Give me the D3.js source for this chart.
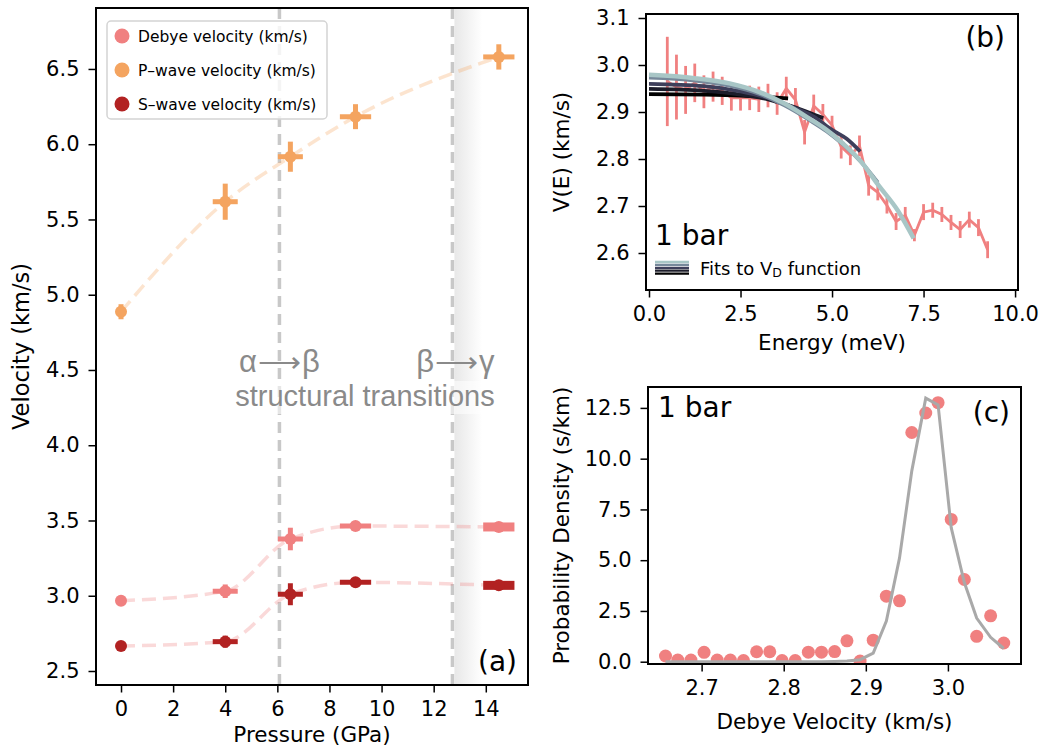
<!DOCTYPE html>
<html>
<head>
<meta charset="utf-8">
<script src="https://cdn.jsdelivr.net/npm/d3@7"></script>
<style>
  body { margin: 0; background: #fff; }
  svg { display: block; }
</style>
</head>
<body>
<svg id="fig" width="1043" height="750"></svg>
<script>
// ---------- Panel (a): sound velocities against pressure ----------
const pressure      = [0, 4, 6.5, 9, 14.5];
const pressureErr   = [0, 0.48, 0.48, 0.6, 0.6];
const debyeV        = [2.967, 3.030, 3.377, 3.463, 3.457];
const debyeErr      = [0.030, 0.045, 0.075, 0.012, 0.020];
const pWaveV        = [4.887, 5.618, 5.917, 6.183, 6.580];
const pWaveErr      = [0.050, 0.120, 0.100, 0.083, 0.084];
const sWaveV        = [2.666, 2.695, 3.010, 3.089, 3.069];
const sWaveErr      = [0.030, 0.040, 0.073, 0.012, 0.020];
const transitionP   = [6.08, 12.72];
const seriesLabels  = ["Debye velocity (km/s)", "P\u2013wave velocity  (km/s)", "S\u2013wave velocity (km/s)"];
const pressureTicks = [0, 2, 4, 6, 8, 10, 12, 14];
const velocityTicks = [2.5, 3.0, 3.5, 4.0, 4.5, 5.0, 5.5, 6.0, 6.5];

// ---------- Panel (b): energy-dependent velocity at 1 bar ----------
const energy = [0.50, 0.75, 1.00, 1.25, 1.50, 1.75, 2.00, 2.25, 2.50, 2.75, 3.00, 3.25,
                3.50, 3.75, 4.00, 4.25, 4.50, 4.75, 5.00, 5.25, 5.50, 5.75, 6.00, 6.25,
                6.50, 6.75, 7.00, 7.25, 7.50, 7.75, 8.00, 8.25, 8.50, 8.75, 9.00, 9.25];
const velocityE = [2.965, 2.953, 2.947, 2.962, 2.943, 2.954, 2.945, 2.930, 2.930, 2.930, 2.927, 2.935,
                   2.918, 2.950, 2.926, 2.857, 2.913, 2.895, 2.872, 2.826, 2.808, 2.828, 2.744, 2.729,
                   2.701, 2.667, 2.680, 2.638, 2.687, 2.691, 2.682, 2.665, 2.650, 2.671, 2.654, 2.607];
const velocityEErr = [0.095, 0.069, 0.051, 0.041, 0.035, 0.032, 0.030, 0.027, 0.027, 0.026, 0.027, 0.025,
                      0.024, 0.025, 0.025, 0.026, 0.024, 0.022, 0.020, 0.025, 0.021, 0.022, 0.022, 0.017,
                      0.017, 0.018, 0.018, 0.013, 0.017, 0.016, 0.016, 0.016, 0.018, 0.017, 0.018, 0.018];
// fitted V_D curves, one per fitting window (energy, velocity)
const fitWindow1 = [[0, 2.938], [1.5, 2.937], [2.5, 2.935], [3.2, 2.932], [3.8, 2.929]];
const fitWindow2 = [[0, 2.949], [1.5, 2.945], [2.6, 2.936], [3.3, 2.926], [3.9, 2.912], [4.4, 2.898], [4.76, 2.887]];
const fitWindow3 = [[0, 2.960], [1.5, 2.955], [2.5, 2.944], [3.25, 2.930], [4.0, 2.908], [4.5, 2.890], [5.0, 2.862], [5.4, 2.843], [5.77, 2.816]];
const fitWindow4 = [[0, 2.973], [1.25, 2.967], [2.2, 2.956], [3.0, 2.939], [3.7, 2.914], [4.4, 2.882], [4.85, 2.859], [5.3, 2.831], [5.8, 2.793], [6.25, 2.750]];
const fitWindow5 = [[0, 2.979], [1.25, 2.972], [2.2, 2.961], [3.0, 2.943], [3.7, 2.918], [4.4, 2.885], [4.85, 2.862], [5.3, 2.833], [5.8, 2.794], [6.25, 2.746], [6.8, 2.690], [7.23, 2.631]];
const energyTicks = [0, 2.5, 5, 7.5, 10];
const velETicks   = [2.6, 2.7, 2.8, 2.9, 3.0, 3.1];

// ---------- Panel (c): distribution of Debye velocity ----------
const debyeBins = [2.656, 2.671, 2.687, 2.703, 2.719, 2.735, 2.751, 2.767, 2.783, 2.798, 2.814, 2.830, 2.846, 2.862,
                   2.877, 2.893, 2.909, 2.925, 2.941, 2.956, 2.973, 2.988, 3.004, 3.020, 3.035, 3.052, 3.068];
const probDensity = [0.28, 0.08, 0.08, 0.46, 0.08, 0.08, 0.06, 0.49, 0.49, 0.06, 0.06, 0.47, 0.47, 0.50,
                     1.03, 0.03, 1.06, 3.23, 3.00, 11.29, 12.25, 12.76, 7.01, 4.05, 1.25, 2.26, 0.92];
const densityFit  = [0, 0, 0, 0, 0, 0, 0, 0, 0, 0, 0, 0, 0, 0.01,
                     0.03, 0.10, 0.42, 2.00, 5.10, 9.40, 12.98, 12.65, 6.60, 3.90, 2.15, 1.20, 0.65];
const debyeTicks   = [2.7, 2.8, 2.9, 3.0];
const densityTicks = [0, 2.5, 5, 7.5, 10, 12.5];

const FONT = "DejaVu Sans, Verdana, sans-serif";
const colDebye = "#f08080", colP = "#f4a460", colS = "#b22222";
const svg = d3.select("#fig");

function frame(box) {
  svg.append("rect")
    .attr("x", box.l).attr("y", box.t)
    .attr("width", box.r - box.l).attr("height", box.b - box.t)
    .attr("fill", "none").attr("stroke", "#000").attr("stroke-width", 2);
}
function styleAxis(g) {
  g.attr("font-family", FONT).attr("font-size", 21);
  g.select(".domain").remove();
  g.selectAll(".tick line").attr("stroke", "#000").attr("stroke-width", 1.5);
  g.selectAll(".tick text").attr("fill", "#000");
}
function axes(box, x, y, xt, yt, xf, yf) {
  svg.append("g").attr("transform", `translate(0,${box.b})`)
    .call(d3.axisBottom(x).tickValues(xt).tickSize(7.5).tickPadding(9).tickFormat(xf))
    .call(styleAxis);
  svg.append("g").attr("transform", `translate(${box.l},0)`)
    .call(d3.axisLeft(y).tickValues(yt).tickSize(7.5).tickPadding(9).tickFormat(yf))
    .call(styleAxis);
}
function label(txt, x, y, size, opts = {}) {
  const t = svg.append("text").attr("x", x).attr("y", y)
    .attr("font-family", opts.family || FONT).attr("font-size", size)
    .attr("fill", opts.fill || "#000").attr("text-anchor", opts.anchor || "start")
    .text(txt);
  if (opts.rotate) t.attr("transform", `rotate(-90,${x},${y})`);
  return t;
}
function clip(id, box) {
  svg.append("clipPath").attr("id", id).append("rect")
    .attr("x", box.l).attr("y", box.t).attr("width", box.r - box.l).attr("height", box.b - box.t);
}

// ================= Panel (a) =================
const boxA = { l: 96, r: 528, t: 8, b: 685 };
const xA = d3.scaleLinear().domain([-0.96, 15.62]).range([boxA.l, boxA.r]);
const yA = d3.scaleLinear().domain([2.407, 6.905]).range([boxA.b, boxA.t]);
clip("clipA", boxA);
const gA = svg.append("g").attr("clip-path", "url(#clipA)");

// shaded high-pressure region beyond the second transition
const defs = svg.append("defs");
const grad = defs.append("linearGradient").attr("id", "hpShade")
  .attr("gradientUnits", "userSpaceOnUse")
  .attr("x1", xA(transitionP[1])).attr("x2", xA(transitionP[1]) + 30).attr("y1", 0).attr("y2", 0);
grad.append("stop").attr("offset", 0).attr("stop-color", "#e6e6e6");
grad.append("stop").attr("offset", 1).attr("stop-color", "#ffffff");
gA.append("rect")
  .attr("x", xA(transitionP[1]) + 2).attr("y", boxA.t)
  .attr("width", boxA.r - xA(transitionP[1])).attr("height", boxA.b - boxA.t)
  .attr("fill", "url(#hpShade)");

// transition markers
gA.selectAll("line.trans").data(transitionP).join("line")
  .attr("x1", d => xA(d)).attr("x2", d => xA(d))
  .attr("y1", boxA.t).attr("y2", boxA.b)
  .attr("stroke", "#c8c8c8").attr("stroke-width", 3.5).attr("stroke-dasharray", "11,7");

// series definitions
const seriesA = [
  { name: seriesLabels[0], v: debyeV, err: debyeErr, color: colDebye, line: "rgba(240,128,128,0.3)", thickLast: true },
  { name: seriesLabels[1], v: pWaveV, err: pWaveErr, color: colP,     line: "rgba(244,164,96,0.3)",  thickLast: false },
  { name: seriesLabels[2], v: sWaveV, err: sWaveErr, color: colS,     line: "rgba(240,128,128,0.3)", thickLast: true }
];
const lineA = d3.line().x(d => xA(d[0])).y(d => yA(d[1])).curve(d3.curveMonotoneX);

seriesA.forEach(s => {
  gA.append("path")
    .attr("d", lineA(pressure.map((p, i) => [p, s.v[i]])))
    .attr("fill", "none").attr("stroke", s.line).attr("stroke-width", 3.5)
    .attr("stroke-dasharray", "14,7");
});
seriesA.forEach(s => {
  const g = gA.append("g");
  pressure.forEach((p, i) => {
    if (s.err[i] > 0) {
      g.append("line").attr("x1", xA(p)).attr("x2", xA(p))
        .attr("y1", yA(s.v[i] - s.err[i])).attr("y2", yA(s.v[i] + s.err[i]))
        .attr("stroke", s.color).attr("stroke-width", 5);
    }
    if (pressureErr[i] > 0) {
      const last = i === pressure.length - 1;
      g.append("line").attr("x1", xA(p - pressureErr[i])).attr("x2", xA(p + pressureErr[i]))
        .attr("y1", yA(s.v[i])).attr("y2", yA(s.v[i]))
        .attr("stroke", s.color).attr("stroke-width", last && s.thickLast ? 9 : 5);
    }
    g.append("circle").attr("cx", xA(p)).attr("cy", yA(s.v[i])).attr("r", 6).attr("fill", s.color);
  });
});

// annotations of the structural transitions
const annot = svg.append("g").attr("font-family", "Liberation Sans, Arial, sans-serif").attr("fill", "#8a8a8a");
annot.append("rect").attr("x", 231).attr("y", 381).attr("width", 268).attr("height", 33)
  .attr("fill", "#fff").attr("fill-opacity", 0.55);
function phaseArrow(from, to, x) {
  const t = annot.append("text").attr("x", x).attr("y", 372).attr("font-size", 31).attr("text-anchor", "middle");
  t.append("tspan").text(from);
  t.append("tspan").attr("font-family", "DejaVu Sans").attr("font-size", 30).attr("font-weight", 300).attr("dx", 1).text("\u27f6");
  t.append("tspan").attr("dx", 1).text(to);
}
phaseArrow("\u03b1", "\u03b2", xA(transitionP[0]));
phaseArrow("\u03b2", "\u03b3", xA(transitionP[1]) + 3);
annot.append("text").attr("x", 365).attr("y", 406).attr("font-size", 29)
  .attr("text-anchor", "middle").text("structural transitions");

// legend
const leg = svg.append("g");
leg.append("rect").attr("x", 107).attr("y", 21).attr("width", 220).attr("height", 98).attr("rx", 4)
  .attr("fill", "#fff").attr("fill-opacity", 0.8).attr("stroke", "#d4d4d4").attr("stroke-width", 1.5);
seriesA.forEach((s, i) => {
  leg.append("circle").attr("cx", 122).attr("cy", 36 + i * 34).attr("r", 7.5).attr("fill", s.color);
  label(s.name, 138, 41.5 + i * 34, 15.5);
});

label("(a)", 517, 671, 28, { anchor: "end" });
axes(boxA, xA, yA, pressureTicks, velocityTicks, d3.format("d"), d3.format(".1f"));
frame(boxA);
label("Pressure (GPa)", (boxA.l + boxA.r) / 2, 742, 21.5, { anchor: "middle" });
label("Velocity (km/s)", 28.5, (boxA.t + boxA.b) / 2, 22.5, { anchor: "middle", rotate: true });

// ================= Panel (b) =================
const boxB = { l: 646, r: 1018, t: 14, b: 290 };
const xB = d3.scaleLinear().domain([-0.082, 10.08]).range([boxB.l, boxB.r]);
const yB = d3.scaleLinear().domain([2.5213, 3.1085]).range([boxB.b, boxB.t]);
clip("clipB", boxB);
const gB = svg.append("g").attr("clip-path", "url(#clipB)");

gB.selectAll("line.err").data(energy).join("line")
  .attr("x1", d => xB(d)).attr("x2", d => xB(d))
  .attr("y1", (d, i) => yB(velocityE[i] - velocityEErr[i]))
  .attr("y2", (d, i) => yB(velocityE[i] + velocityEErr[i]))
  .attr("stroke", colDebye).attr("stroke-width", 2.8);
gB.append("path")
  .attr("d", d3.line().x(d => xB(d[0])).y(d => yB(d[1]))(energy.map((e, i) => [e, velocityE[i]])))
  .attr("fill", "none").attr("stroke", colDebye).attr("stroke-width", 2.8);

const fitColors = ["#000000", "#1c1c2a", "#3e3f5b", "#76889a", "#a8c6c6"];
const fitSets = [fitWindow1, fitWindow2, fitWindow3, fitWindow4, fitWindow5];
const fitLine = d3.line().x(d => xB(d[0])).y(d => yB(d[1])).curve(d3.curveMonotoneX);
fitSets.forEach((f, i) => {
  gB.append("path").attr("d", fitLine(f)).attr("fill", "none")
    .attr("stroke", fitColors[i]).attr("stroke-width", i === 4 ? 4.5 : 3.8);
});

// legend for the fits
[4, 3, 2, 1, 0].forEach((ci, k) => {
  svg.append("line").attr("x1", 655).attr("x2", 689)
    .attr("y1", 262 + k * 2.9).attr("y2", 262 + k * 2.9)
    .attr("stroke", fitColors[ci]).attr("stroke-width", 2.3);
});
const fitTxt = label("Fits to V", 700, 275, 18);
fitTxt.append("tspan").attr("font-size", 12.5).attr("dy", 2).text("D");
fitTxt.append("tspan").attr("dy", -2).text(" function");

label("1 bar", 655, 245, 28);
label("(b)", 1005, 47, 28, { anchor: "end" });
axes(boxB, xB, yB, energyTicks, velETicks, d3.format(".1f"), d3.format(".1f"));
frame(boxB);
label("Energy (meV)", (boxB.l + boxB.r) / 2, 350, 21.5, { anchor: "middle" });
label("V(E) (km/s)", 569, (boxB.t + boxB.b) / 2, 21.5, { anchor: "middle", rotate: true });

// ================= Panel (c) =================
const boxC = { l: 648, r: 1021, t: 387, b: 664 };
const xC = d3.scaleLinear().domain([2.6347, 3.0890]).range([boxC.l, boxC.r]);
const yC = d3.scaleLinear().domain([-0.113, 13.53]).range([boxC.b, boxC.t]);
clip("clipC", boxC);
const gC = svg.append("g").attr("clip-path", "url(#clipC)");

gC.selectAll("circle").data(debyeBins).join("circle")
  .attr("cx", d => xC(d)).attr("cy", (d, i) => yC(probDensity[i])).attr("r", 6.5)
  .attr("fill", colDebye);
gC.append("path")
  .attr("d", d3.line().x(d => xC(d[0])).y(d => yC(d[1]))(debyeBins.map((v, i) => [v, densityFit[i]])))
  .attr("fill", "none").attr("stroke", "#a9a9a9").attr("stroke-width", 3);

label("1 bar", 658, 417, 28);
label("(c)", 1010, 422, 28, { anchor: "end" });
axes(boxC, xC, yC, debyeTicks, densityTicks, d3.format(".1f"), d3.format(".1f"));
frame(boxC);
label("Debye Velocity (km/s)", (boxC.l + boxC.r) / 2, 729, 21.5, { anchor: "middle" });
label("Probability Density (s/km)", 569, (boxC.t + boxC.b) / 2, 21.5, { anchor: "middle", rotate: true });
</script>
</body>
</html>
